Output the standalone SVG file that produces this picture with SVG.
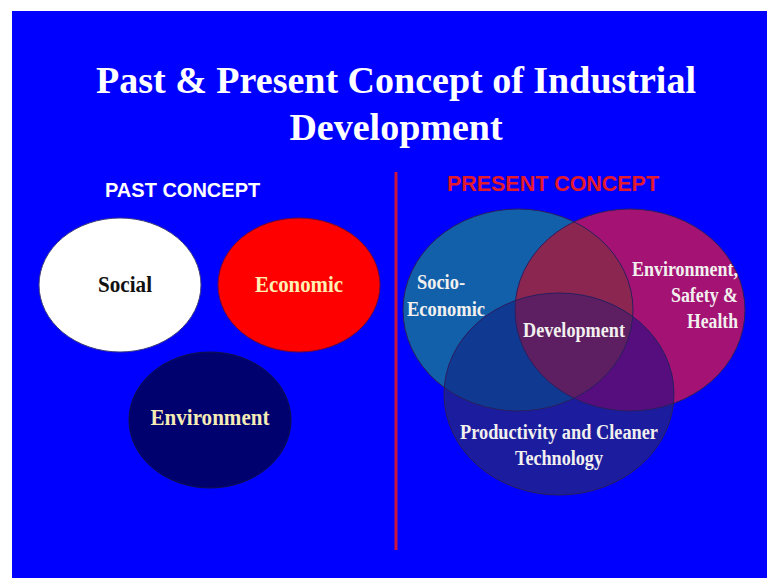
<svg xmlns="http://www.w3.org/2000/svg" width="767" height="578" viewBox="0 0 767 578">
  <style>
    .title { font-family: "Liberation Serif", "Times New Roman", serif; font-weight: bold; font-size: 38px; fill: #ffffff; text-anchor: middle; }
    .head { font-family: "Liberation Sans", Arial, sans-serif; font-weight: bold; font-size: 20px; }
    .lbl { font-family: "Liberation Serif", "Times New Roman", serif; font-weight: bold; font-size: 23px; text-anchor: middle; }
    .vlbl { font-family: "Liberation Serif", "Times New Roman", serif; font-weight: bold; font-size: 20px; fill: #f2f0ee; }
    .edge { fill: none; stroke: #2a1f5e; stroke-width: 1; }
  </style>
  <defs>
    <clipPath id="clipSocio"><ellipse cx="518" cy="310" rx="115" ry="101"/></clipPath>
    <clipPath id="clipEsh"><ellipse cx="630" cy="310" rx="115" ry="101"/></clipPath>
    <clipPath id="clipProd"><ellipse cx="559" cy="394" rx="115" ry="101"/></clipPath>
  </defs>

  <!-- page and slide background -->
  <rect x="0" y="0" width="767" height="578" fill="#ffffff"/>
  <rect x="12" y="11" width="755" height="567" fill="#0000ff"/>

  <!-- title -->
  <text class="title" x="396" y="93">Past &amp; Present Concept of Industrial</text>
  <text class="title" x="396" y="140">Development</text>

  <!-- divider -->
  <g id="connectors">
    <line x1="396" y1="172" x2="396" y2="550" stroke="#c8163e" stroke-width="3"/>
  </g>

  <!-- left column -->
  <text class="head" x="105" y="197" fill="#ffffff">PAST CONCEPT</text>

  <g id="social">
    <ellipse cx="120" cy="285" rx="81" ry="67" fill="#ffffff" stroke="#3a3a7a" stroke-width="1"/>
    <text class="lbl" x="125" y="292" fill="#111111" textLength="54" lengthAdjust="spacingAndGlyphs">Social</text>
  </g>
  <g id="economic">
    <ellipse cx="299" cy="285" rx="81" ry="67" fill="#ff0000" stroke="#6a0a3a" stroke-width="1"/>
    <text class="lbl" x="299" y="292" fill="#fff0b4" textLength="88" lengthAdjust="spacingAndGlyphs">Economic</text>
  </g>
  <g id="environment">
    <ellipse cx="210" cy="420" rx="81" ry="68" fill="#00006e" stroke="#10104a" stroke-width="1"/>
    <text class="lbl" x="210" y="425" fill="#f5ebb4" textLength="119" lengthAdjust="spacingAndGlyphs">Environment</text>
  </g>

  <!-- right column -->
  <text class="head" x="447" y="191" fill="#e31a2c" style="font-size:21.5px" textLength="212" lengthAdjust="spacingAndGlyphs">PRESENT CONCEPT</text>

  <g id="venn-fills">
    <ellipse cx="518" cy="310" rx="115" ry="101" fill="#1260aa"/>
    <ellipse cx="630" cy="310" rx="115" ry="101" fill="#a41274"/>
    <ellipse cx="559" cy="394" rx="115" ry="101" fill="#1c1c9e"/>
    <!-- pairwise overlaps -->
    <ellipse cx="518" cy="310" rx="115" ry="101" fill="#8a2650" clip-path="url(#clipEsh)"/>
    <ellipse cx="518" cy="310" rx="115" ry="101" fill="#103a92" clip-path="url(#clipProd)"/>
    <ellipse cx="630" cy="310" rx="115" ry="101" fill="#560e7e" clip-path="url(#clipProd)"/>
    <!-- centre -->
    <g clip-path="url(#clipProd)">
      <ellipse cx="518" cy="310" rx="115" ry="101" fill="#5e1e62" clip-path="url(#clipEsh)"/>
    </g>
  </g>

  <g id="socio-economic">
    <ellipse class="edge" cx="518" cy="310" rx="115" ry="101"/>
    <text class="vlbl" x="417" y="289" textLength="48" lengthAdjust="spacingAndGlyphs">Socio-</text>
    <text class="vlbl" x="407" y="316" textLength="78" lengthAdjust="spacingAndGlyphs">Economic</text>
  </g>
  <g id="env-safety-health">
    <ellipse class="edge" cx="630" cy="310" rx="115" ry="101"/>
    <text class="vlbl" x="632" y="276" textLength="106" lengthAdjust="spacingAndGlyphs">Environment,</text>
    <text class="vlbl" x="671" y="302" textLength="67" lengthAdjust="spacingAndGlyphs">Safety &amp;</text>
    <text class="vlbl" x="687" y="328" textLength="51" lengthAdjust="spacingAndGlyphs">Health</text>
  </g>
  <g id="productivity">
    <ellipse class="edge" cx="559" cy="394" rx="115" ry="101"/>
    <text class="vlbl" x="460" y="439" textLength="198" lengthAdjust="spacingAndGlyphs">Productivity and Cleaner</text>
    <text class="vlbl" x="515" y="465" textLength="88" lengthAdjust="spacingAndGlyphs">Technology</text>
  </g>
  <g id="development">
    <text class="vlbl" x="523" y="337" textLength="102" lengthAdjust="spacingAndGlyphs">Development</text>
  </g>
</svg>
